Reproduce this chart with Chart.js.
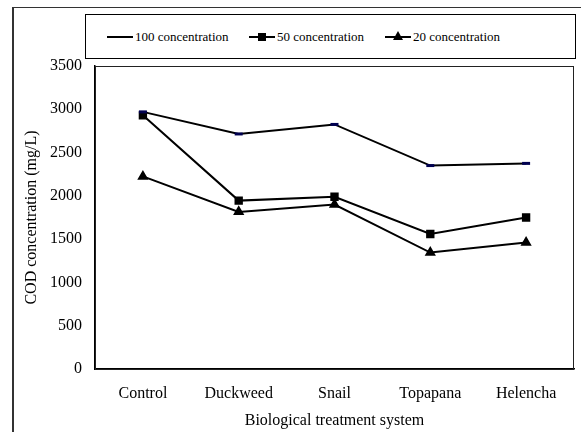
<!DOCTYPE html>
<html>
<head>
<meta charset="utf-8">
<script src="https://cdn.jsdelivr.net/npm/chart.js@4"></script>
<style>
  body { margin: 0; background: #fff; font-family: "Liberation Serif", "Times New Roman", serif; }
  #wrap { position: relative; width: 581px; height: 432px; overflow: hidden; }
  #frame { position: absolute; left: 12px; top: 7px; width: 700px; height: 600px; border: 1px solid #333; border-left-width: 2px; }
  #myChart { position: absolute; left: 0; top: 0; }
  #legend { position: absolute; left: 85px; top: 14px; width: 489px; height: 43px; border: 1px solid #000; background: #fff; }
  .item { position: absolute; top: 0; height: 43px; font-size: 13px; line-height: 43px; color: #000; white-space: nowrap; }
  .sym { position: absolute; top: 21px; width: 26px; height: 2px; background: #000; }
  .sq { position: absolute; left: 9px; top: -3px; width: 8px; height: 8px; background: #000; }
  .tri { position: absolute; left: 8px; top: -5px; width: 0; height: 0; border-left: 5px solid transparent; border-right: 5px solid transparent; border-bottom: 9px solid #000; }
  .txt { position: absolute; left: 28px; top: 0; }
</style>
</head>
<body>
<div id="wrap">
  <div id="frame"></div>
  <canvas id="myChart" width="581" height="432"></canvas>
  <div id="legend"></div>
</div>
<script>
//categories and series values
const systems = ['Control', 'Duckweed', 'Snail', 'Topapana', 'Helencha'];
const conc100 = [2970, 2715, 2825, 2350, 2375];
const conc50 = [2930, 1945, 1990, 1560, 1750];
const conc20 = [2225, 1815, 1900, 1345, 1460];
const seriesNames = ['100 concentration', '50 concentration', '20 concentration'];
const yTicks = [0, 500, 1000, 1500, 2000, 2500, 3000, 3500];

const serif = '"Liberation Serif", "Times New Roman", serif';
Chart.defaults.color = '#000';
Chart.defaults.font.family = serif;
Chart.defaults.font.size = 16;

//legend built by hand: line + marker, inside a bordered box
const legendEl = document.getElementById('legend');
const legendX = [21, 163, 299];
const legendMarks = ['', 'sq', 'tri'];
seriesNames.forEach((name, i) => {
    const item = document.createElement('div');
    item.className = 'item';
    item.style.left = legendX[i] + 'px';
    const sym = document.createElement('div');
    sym.className = 'sym';
    if (legendMarks[i]) {
        const m = document.createElement('div');
        m.className = legendMarks[i];
        sym.appendChild(m);
    }
    const txt = document.createElement('span');
    txt.className = 'txt';
    txt.textContent = name;
    item.appendChild(sym);
    item.appendChild(txt);
    legendEl.appendChild(item);
});

//box round the plot area
const plotBorder = {
    id: 'plotBorder',
    afterDraw(chart) {
        const {ctx, chartArea: a} = chart;
        ctx.save();
        ctx.strokeStyle = '#222';
        ctx.lineWidth = 1;
        ctx.strokeRect(a.left + 0.5, a.top + 0.5, a.right - a.left - 1, a.bottom - a.top);
        ctx.restore();
    }
};

const ctx = document.getElementById('myChart');
new Chart(ctx, {
    type: 'line',
    data: {
        labels: systems,
        datasets: [
            {
                label: seriesNames[0],
                data: conc100,
                borderColor: '#000',
                borderWidth: 2,
                pointStyle: 'line',
                pointRadius: 4,
                pointBorderWidth: 3,
                pointBorderColor: '#000050',
                pointBackgroundColor: '#000050'
            },
            {
                label: seriesNames[1],
                data: conc50,
                borderColor: '#000',
                borderWidth: 2,
                pointStyle: 'rect',
                pointRadius: 4.5,
                pointBorderColor: '#000',
                pointBackgroundColor: '#000'
            },
            {
                label: seriesNames[2],
                data: conc20,
                borderColor: '#000',
                borderWidth: 2,
                pointStyle: 'triangle',
                pointRadius: 4.5,
                pointBorderColor: '#000',
                pointBackgroundColor: '#000'
            }
        ]
    },
    options: {
        responsive: false,
        animation: false,
        layout: { padding: { top: 66, right: 3, left: 0, bottom: 0 } },
        plugins: {
            legend: { display: false },
            tooltip: { enabled: false }
        },
        scales: {
            x: {
                offset: true,
                grid: { display: false },
                border: { display: true, color: '#000', width: 1.5 },
                ticks: { padding: 7, color: '#000', maxRotation: 0 },
                title: {
                    display: true,
                    text: 'Biological treatment system',
                    color: '#000',
                    padding: { top: 0, bottom: 2 }
                },
                afterFit(scale) { scale.height = 63; }
            },
            y: {
                min: 0,
                max: 3500,
                grid: { display: false },
                border: { display: true, color: '#000', width: 1.5 },
                afterBuildTicks(scale) { scale.ticks = yTicks.map(v => ({ value: v })); },
                ticks: { padding: 5, color: '#000', callback: v => String(v) },
                title: {
                    display: true,
                    text: 'COD concentration (mg/L)',
                    color: '#000',
                    padding: { top: 22, bottom: 0 }
                },
                afterFit(scale) { scale.width = 95; }
            }
        }
    },
    plugins: [plotBorder]
});
</script>
</body>
</html>
